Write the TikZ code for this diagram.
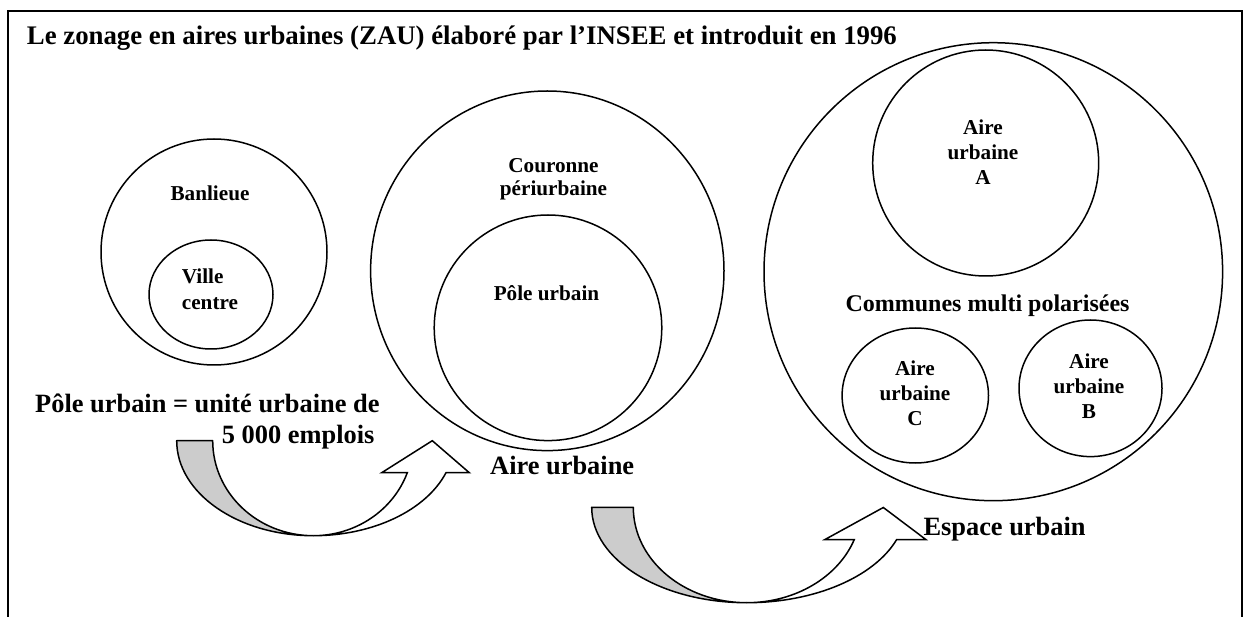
\documentclass[tikz,border=0pt]{standalone}
\usepackage{fontspec}
\setmainfont{Liberation Serif}
\usetikzlibrary{shapes.geometric}
\definecolor{tailgrey}{RGB}{204,204,204}
\newcommand\zstackc[2]{\vtop{\baselineskip=#1\lineskiplimit=-100pt\lineskip=0pt\halign{\hfil##\hfil\cr#2\crcr}}}
\newcommand\zstackl[2]{\vtop{\baselineskip=#1\lineskiplimit=-100pt\lineskip=0pt\halign{##\hfil\cr#2\crcr}}}
\begin{document}
\begin{tikzpicture}[x=1pt,y=-1pt,
  ring/.style={ellipse,draw,line width=1.5pt,inner sep=0pt,outer sep=0pt},
  bigtext/.style={font=\fontsize{26.4pt}{31pt}\selectfont\bfseries,inner sep=0pt},
  titletext/.style={font=\fontsize{26.8pt}{32pt}\selectfont\bfseries,inner sep=0pt},
  smalltext/.style={font=\fontsize{21.2pt}{25pt}\selectfont\bfseries,inner sep=0pt},
  midtext/.style={font=\fontsize{24pt}{28pt}\selectfont\bfseries,inner sep=0pt},
  tailpart/.style={draw,line width=1.5pt,line join=round,fill=tailgrey},
  headpart/.style={draw,line width=1.5pt,line join=miter,fill=white}]
\useasboundingbox (0,0) rectangle (1245,617);
% frame (open at the bottom)
\draw[line width=2.2pt,line join=miter] (8.3,617) -- (8.3,10.7) -- (1241.7,10.7) -- (1241.7,617);
% title
\node[titletext,anchor=base west] (title) at (26.7,44.3) {Le zonage en aires urbaines (ZAU) élaboré par l’INSEE et introduit en 1996};
% first group: Banlieue / Ville centre
\node[ring,minimum width=226pt,minimum height=226pt] (banlieue) at (214,252) {};
\node[ring,minimum width=124pt,minimum height=109pt] (ville) at (211,294.5) {};
\node[smalltext,anchor=base] (tbanlieue) at (210,200.7) {Banlieue};
\node[smalltext,anchor=base west] (tville) at (181.7,284) {\zstackl{26pt}{Ville\cr centre}};
% second group: Aire urbaine
\node[ring,minimum width=353.4pt,minimum height=359.6pt] (aire) at (547.3,270.8) {};
\node[ring,minimum width=227.6pt,minimum height=225.6pt] (pole) at (548,327.8) {};
\node[smalltext,anchor=base] (tcouronne) at (553.5,172.7) {\zstackc{23pt}{Couronne\cr périurbaine}};
\node[smalltext,anchor=base] (tpole) at (546.5,300.7) {Pôle urbain};
% third group: Espace urbain
\node[ring,minimum width=458.6pt,minimum height=458pt] (espace) at (993.3,271.7) {};
\node[ring,minimum width=226pt,minimum height=226pt] (aireA) at (985.7,163) {};
\node[ring,minimum width=146.4pt,minimum height=135pt] (aireC) at (915.3,395.5) {};
\node[ring,minimum width=143pt,minimum height=136.6pt] (aireB) at (1090.5,388.3) {};
\node[smalltext,anchor=base] (tA) at (983,135) {\zstackc{24.8pt}{Aire\cr urbaine\cr A}};
\node[midtext,anchor=base] (tcommunes) at (987.5,311.7) {Communes multi polarisées};
\node[smalltext,anchor=base] (tC) at (915,376) {\zstackc{25pt}{Aire\cr urbaine\cr C}};
\node[smalltext,anchor=base] (tB) at (1089,368.3) {\zstackc{25pt}{Aire\cr urbaine\cr B}};
% big labels
\node[bigtext,anchor=base west] (tdef) at (35,413) {Pôle urbain = unité urbaine de};
\node[bigtext,anchor=base west] (tdef2) at (221.7,443.3) {5 000 emplois};
\node[bigtext,anchor=base west] (taire) at (490,474.5) {Aire urbaine};
\node[bigtext,anchor=base west] (tespace) at (923.3,535.7) {Espace urbain};
% first curved arrow
\draw[tailpart] (176.7,440.7) .. controls (176.7,493.2) and (237.9,535.7) .. (313.3,535.7)
  .. controls (257.7,535.7) and (212.7,493.2) .. (212.7,440.7) -- cycle;
\draw[headpart] (313.3,535.7) .. controls (372.8,535.7) and (426.0,510.5) .. (446,472.7)
  -- (469.3,472.7) -- (432.3,440.7) -- (381.7,472.7) -- (407.3,472.7)
  .. controls (393.1,510.5) and (355.5,535.7) .. (313.3,535.7) -- cycle;
% second curved arrow
\draw[tailpart] (591.7,507.3) .. controls (591.7,560.0) and (661.1,602.7) .. (746.7,602.7)
  .. controls (684.1,602.7) and (633.3,560.0) .. (633.3,507.3) -- cycle;
\draw[headpart] (746.7,602.7) .. controls (814.0,602.7) and (874.0,577.4) .. (896.7,539.5)
  -- (925.8,539.5) -- (883.3,507.5) -- (825,539.5) -- (854.3,539.5)
  .. controls (838.0,577.4) and (795.0,602.7) .. (746.7,602.7) -- cycle;
\end{tikzpicture}
\end{document}
